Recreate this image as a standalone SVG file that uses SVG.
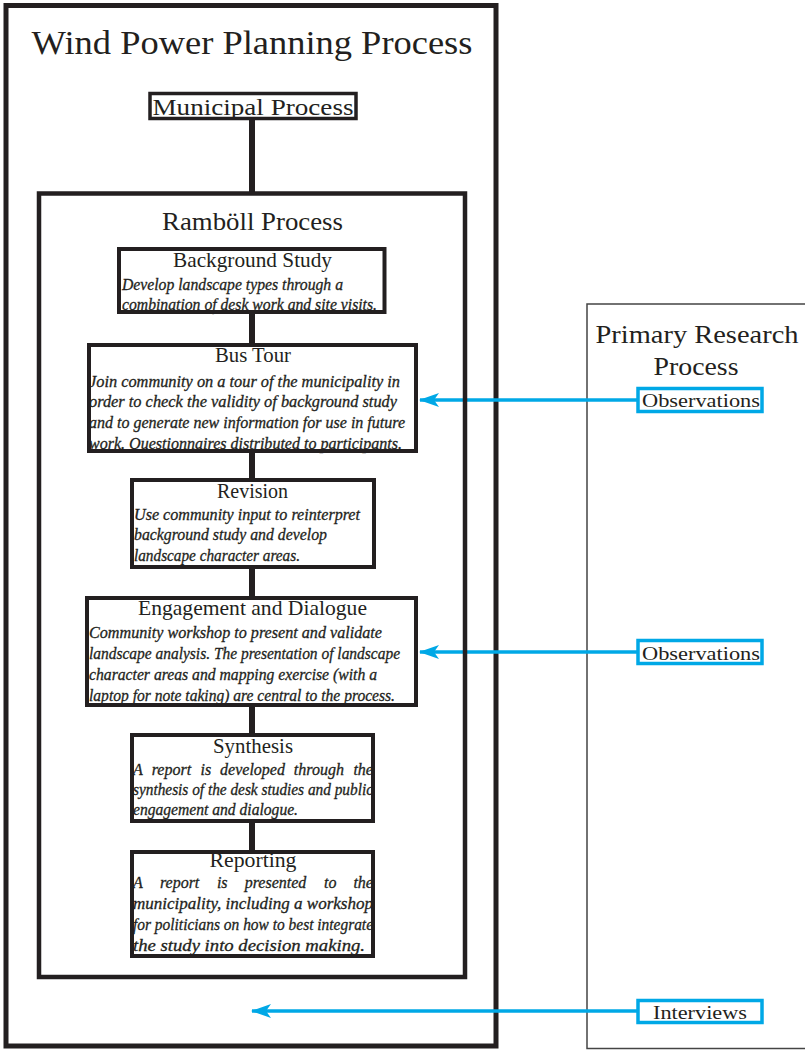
<svg xmlns="http://www.w3.org/2000/svg" width="805" height="1050" viewBox="0 0 805 1050">
<style>
.box{fill:none;stroke:#231f20;stroke-width:4}
.t{font-family:"Liberation Serif","Times New Roman",serif;fill:#231f20}
.h{font-size:21px;text-anchor:middle}
.b{font-size:16px;font-style:italic;stroke:#231f20;stroke-width:0.3}
.conn{stroke:#231f20;stroke-width:6}
.blue{stroke:#00a8e6;stroke-width:3.5;fill:none}
.lbl{fill:#ffffff;stroke:#00a8e6;stroke-width:3.5}
.lt{font-size:19px;text-anchor:middle}
</style>
<defs>
<marker id="ah" markerUnits="userSpaceOnUse" markerWidth="20" markerHeight="14" viewBox="0 0 20 14" refX="19" refY="7" orient="auto">
<path d="M0,0 L20,7 L0,14 L5,7 Z" fill="#00a8e6"/>
</marker>
</defs>
<rect width="805" height="1050" fill="#ffffff"/>

<g id="wind-power-planning-process">
<rect x="6" y="5.5" width="490" height="1040.5" fill="none" stroke="#231f20" stroke-width="5"/>
<text class="t" x="252" y="54" font-size="34" text-anchor="middle" textLength="441" lengthAdjust="spacingAndGlyphs">Wind Power Planning Process</text>
</g>

<g id="primary-research-process">
<rect x="587" y="304" width="230" height="744.5" fill="none" stroke="#444" stroke-width="1.5"/>
<text class="t" x="697" y="343" font-size="25" text-anchor="middle" textLength="203" lengthAdjust="spacingAndGlyphs">Primary Research</text>
<text class="t" x="696" y="375" font-size="25" text-anchor="middle" textLength="85" lengthAdjust="spacingAndGlyphs">Process</text>
</g>

<g id="connectors">
<line class="conn" x1="252" y1="119" x2="252" y2="192" stroke-width="7"/>
<line class="conn" x1="252" y1="312" x2="252" y2="345"/>
<line class="conn" x1="252" y1="451" x2="252" y2="480"/>
<line class="conn" x1="252" y1="567" x2="252" y2="598"/>
<line class="conn" x1="252" y1="705" x2="252" y2="735"/>
<line class="conn" x1="252" y1="821" x2="252" y2="852"/>
<line class="blue" x1="637" y1="400" x2="420" y2="400" marker-end="url(#ah)"/>
<line class="blue" x1="637" y1="652" x2="420" y2="652" marker-end="url(#ah)"/>
<line class="blue" x1="637" y1="1011" x2="252" y2="1011" marker-end="url(#ah)"/>
</g>

<g id="municipal-process">
<text class="t" x="253" y="115" font-size="24" text-anchor="middle" textLength="201" lengthAdjust="spacingAndGlyphs">Municipal Process</text>
<rect x="150" y="93.5" width="206" height="25" fill="none" stroke="#231f20" stroke-width="3.5"/>
</g>

<g id="ramboll-process">
<rect x="39" y="193.5" width="426" height="783.5" fill="none" stroke="#231f20" stroke-width="4.5"/>
<text class="t" x="252.5" y="230" font-size="25" text-anchor="middle" textLength="181" lengthAdjust="spacingAndGlyphs">Ramböll Process</text>
</g>

<g id="background-study">
<text class="t h" x="252.5" y="267" textLength="159" lengthAdjust="spacingAndGlyphs">Background Study</text>
<text class="t b" x="122" y="290" textLength="221" lengthAdjust="spacingAndGlyphs">Develop landscape types through a</text>
<text class="t b" x="122" y="310" textLength="255" lengthAdjust="spacingAndGlyphs">combination of desk work and site visits.</text>
<rect class="box" x="119" y="249" width="265.5" height="63"/>
</g>

<g id="bus-tour">
<text class="t h" x="253" y="362" textLength="76" lengthAdjust="spacingAndGlyphs">Bus Tour</text>
<text class="t b" x="89" y="387" textLength="311" lengthAdjust="spacingAndGlyphs">Join community on a tour of the municipality in</text>
<text class="t b" x="89" y="407" textLength="308" lengthAdjust="spacingAndGlyphs">order to check the validity of background study</text>
<text class="t b" x="89" y="428" textLength="316" lengthAdjust="spacingAndGlyphs">and to generate new information for use in future</text>
<text class="t b" x="89" y="449" textLength="313" lengthAdjust="spacingAndGlyphs">work. Questionnaires distributed to participants.</text>
<rect class="box" x="89" y="345" width="327" height="106"/>
</g>

<g id="revision">
<text class="t h" x="252.5" y="498" textLength="71" lengthAdjust="spacingAndGlyphs">Revision</text>
<text class="t b" x="134" y="520" textLength="226" lengthAdjust="spacingAndGlyphs">Use community input to reinterpret</text>
<text class="t b" x="134" y="540" textLength="193" lengthAdjust="spacingAndGlyphs">background study and develop</text>
<text class="t b" x="134" y="561" textLength="166" lengthAdjust="spacingAndGlyphs">landscape character areas.</text>
<rect class="box" x="132" y="480" width="242" height="87"/>
</g>

<g id="engagement-and-dialogue">
<text class="t h" x="252.5" y="615" textLength="229" lengthAdjust="spacingAndGlyphs">Engagement and Dialogue</text>
<text class="t b" x="89" y="638" textLength="293" lengthAdjust="spacingAndGlyphs">Community workshop to present and validate</text>
<text class="t b" x="89" y="659" textLength="311" lengthAdjust="spacingAndGlyphs">landscape analysis. The presentation of landscape</text>
<text class="t b" x="89" y="680" textLength="288" lengthAdjust="spacingAndGlyphs">character areas and mapping exercise (with a</text>
<text class="t b" x="89" y="701" textLength="306" lengthAdjust="spacingAndGlyphs">laptop for note taking) are central to the process.</text>
<rect class="box" x="87" y="598" width="329" height="107"/>
</g>

<g id="synthesis">
<text class="t h" x="253" y="753" textLength="80" lengthAdjust="spacingAndGlyphs">Synthesis</text>
<text class="t b" y="775"><tspan x="133">A</tspan><tspan x="151.7">report</tspan><tspan x="200.5">is</tspan><tspan x="220.1">developed</tspan><tspan x="293.8">through</tspan><tspan x="353.4">the</tspan></text>
<text class="t b" x="133" y="795" textLength="240" lengthAdjust="spacingAndGlyphs">synthesis of the desk studies and public</text>
<text class="t b" x="133" y="815" textLength="165" lengthAdjust="spacingAndGlyphs">engagement and dialogue.</text>
<rect class="box" x="132" y="735" width="241" height="86"/>
</g>

<g id="reporting">
<text class="t h" x="253" y="867" textLength="87" lengthAdjust="spacingAndGlyphs">Reporting</text>
<text class="t b" y="888"><tspan x="133">A</tspan><tspan x="159.9">report</tspan><tspan x="216.9">is</tspan><tspan x="244.7">presented</tspan><tspan x="324">to</tspan><tspan x="353.4">the</tspan></text>
<text class="t b" x="133" y="909" textLength="240" lengthAdjust="spacingAndGlyphs">municipality, including a workshop</text>
<text class="t b" x="133" y="930" textLength="240" lengthAdjust="spacingAndGlyphs">for politicians on how to best integrate</text>
<text class="t b" x="133" y="951" textLength="232" lengthAdjust="spacingAndGlyphs">the study into decision making.</text>
<rect class="box" x="132" y="852" width="241" height="104"/>
</g>

<g id="observations-1">
<rect class="lbl" x="638" y="388.5" width="124" height="23"/>
<text class="t lt" x="701" y="407" textLength="118" lengthAdjust="spacingAndGlyphs">Observations</text>
</g>

<g id="observations-2">
<rect class="lbl" x="638" y="640.5" width="124" height="23"/>
<text class="t lt" x="701" y="660" textLength="118" lengthAdjust="spacingAndGlyphs">Observations</text>
</g>

<g id="interviews">
<rect class="lbl" x="638" y="1000.5" width="124" height="22"/>
<text class="t lt" x="700" y="1019" textLength="94" lengthAdjust="spacingAndGlyphs">Interviews</text>
</g>
</svg>
